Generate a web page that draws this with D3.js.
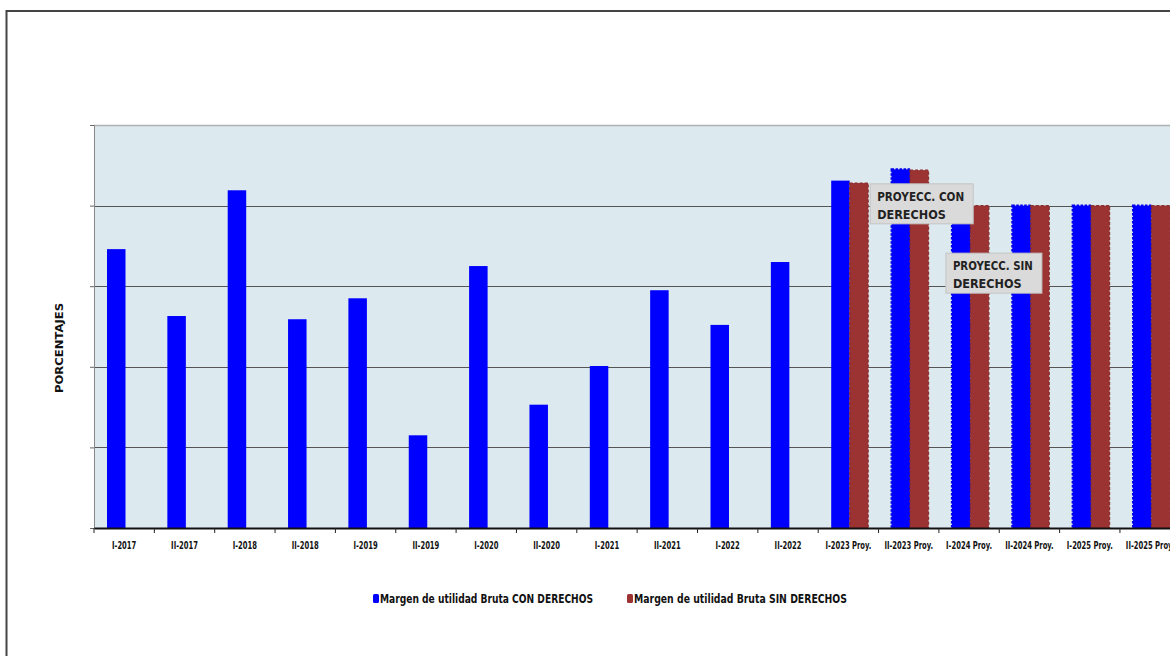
<!DOCTYPE html>
<html>
<head>
<meta charset="utf-8">
<script src="https://cdn.jsdelivr.net/npm/d3@7"></script>
<style>
  html, body { margin: 0; padding: 0; background: #fff; overflow: hidden; }
  svg { display: block; }
</style>
</head>
<body>
<svg id="chart" width="1170" height="656"></svg>
<script>
const categories = ["I-2017","II-2017","I-2018","II-2018","I-2019","II-2019","I-2020","II-2020","I-2021","II-2021","I-2022","II-2022","I-2023 Proy.","II-2023 Proy.","I-2024 Proy.","II-2024 Proy.","I-2025 Proy.","II-2025 Proy."];
const conDerechos = [34.6, 26.3, 41.9, 25.9, 28.5, 11.5, 32.5, 15.3, 20.1, 29.5, 25.2, 33.0, 43.1, 44.5, 40.0, 40.0, 40.0, 40.0];
const sinDerechos = [null, null, null, null, null, null, null, null, null, null, null, null, 42.8, 44.4, 40.0, 40.0, 40.0, 40.0];
const projected = [false,false,false,false,false,false,false,false,false,false,false,false,true,true,true,true,true,true];
const seriesNames = ["Margen de utilidad Bruta CON DERECHOS", "Margen de utilidad Bruta SIN DERECHOS"];
const yTicks = [0, 10, 20, 30, 40, 50];
const annotations = [
  { lines: ["PROYECC. CON", "DERECHOS"], cat: "I-2023 Proy.", dx: 52, value: 42.7, w: 103 },
  { lines: ["PROYECC. SIN", "DERECHOS"], cat: "I-2024 Proy.", dx: 7, value: 34.1, w: 96 }
];

const svg = d3.select("#chart");
const BLUE = "#0000ff", RED = "#9b3333";
const plotLeft = 94, plotTop = 125, plotBottom = 528, bandW = 60.35;

// outer frame
svg.append("path").attr("d", "M6.5,656 L6.5,11 L1170,11")
  .attr("fill", "none").attr("stroke", "#444").attr("stroke-width", 2);

const x = d3.scaleBand().domain(categories).range([plotLeft, plotLeft + bandW * categories.length]).paddingInner(0).paddingOuter(0);
const x1 = d3.scaleBand().domain(["con", "sin"]).range([13, 50]).padding(0);
const y = d3.scaleLinear().domain([0, 50]).range([plotBottom, plotTop]);

// plot background
svg.append("rect").attr("x", plotLeft).attr("y", plotTop)
  .attr("width", x.range()[1] - plotLeft).attr("height", plotBottom - plotTop)
  .attr("fill", "#dce9ef");

// gridlines
svg.append("g").selectAll("line").data(yTicks.slice(1)).join("line")
  .attr("x1", plotLeft).attr("x2", x.range()[1])
  .attr("y1", d => Math.round(y(d)) + 0.5).attr("y2", d => Math.round(y(d)) + 0.5)
  .attr("stroke", d => d === 50 ? "#b0b0b0" : "#555").attr("stroke-width", d => d === 50 ? 1.5 : 1);

// y axis (no labels)
const yAxis = svg.append("g").attr("transform", `translate(${plotLeft},0)`)
  .call(d3.axisLeft(y).tickValues(yTicks).tickSize(4).tickFormat(""));
yAxis.select(".domain").attr("stroke", "#888");
yAxis.selectAll(".tick line").attr("stroke", "#666");

// bars
const rows = categories.map((c, i) => ({ cat: c, i, con: conDerechos[i], sin: sinDerechos[i], proj: projected[i] }));
const g = svg.append("g");
rows.forEach(r => {
  const bx = x(r.cat);
  if (r.con != null) {
    const rect = g.append("rect")
      .attr("x", bx + x1("con")).attr("y", y(r.con))
      .attr("width", x1.bandwidth()).attr("height", y(0) - y(r.con))
      .attr("fill", BLUE);
    if (r.proj && r.i > 12) {
      rect.attr("stroke", "#0000ee").attr("stroke-width", 2).attr("stroke-dasharray", "2.5,1.5");
    }
  }
  if (r.sin != null) {
    g.append("rect")
      .attr("x", bx + x1("sin")).attr("y", y(r.sin))
      .attr("width", x1.bandwidth()).attr("height", y(0) - y(r.sin))
      .attr("fill", RED)
      .attr("stroke", "#8a2e2e").attr("stroke-width", 1.2).attr("stroke-dasharray", "3,2");
  }
});

// x axis
const xAxis = svg.append("g").attr("transform", `translate(0,${plotBottom})`)
  .call(d3.axisBottom(x).tickSize(0).tickPadding(14));
xAxis.select(".domain").attr("stroke", "#111").attr("stroke-width", 2);
const tickTexts = xAxis.selectAll(".tick text")
  .attr("font-family", "'DejaVu Sans Condensed', 'DejaVu Sans', sans-serif")
  .attr("font-weight", "bold").attr("font-size", 10.5).attr("fill", "#111");
// condense labels horizontally like the narrow font of the original
tickTexts.each(function () {
  const len = this.getComputedTextLength();
  d3.select(this).attr("textLength", len * 0.72).attr("lengthAdjust", "spacingAndGlyphs");
});
svg.append("g").selectAll("line").data(categories.map(c => x(c)).concat([x.range()[1]])).join("line")
  .attr("x1", d => d).attr("x2", d => d).attr("y1", plotBottom).attr("y2", plotBottom + 5)
  .attr("stroke", "#222").attr("stroke-width", 1);

// axis title
svg.append("text").attr("transform", "translate(63,348) rotate(-90)")
  .attr("text-anchor", "middle")
  .attr("font-family", "'DejaVu Sans Condensed', 'DejaVu Sans', sans-serif")
  .attr("font-weight", "bold").attr("font-size", 10).attr("fill", "#111")
  .attr("textLength", 90).attr("lengthAdjust", "spacingAndGlyphs")
  .text("PORCENTAJES");

// annotations
annotations.forEach(a => {
  const ax = x(a.cat) + a.dx, ay = y(a.value);
  svg.append("rect").attr("x", ax).attr("y", ay).attr("width", a.w).attr("height", 40)
    .attr("fill", "#dadada").attr("stroke", "#c4c4c4").attr("stroke-width", 1);
  a.lines.forEach((t, k) => {
    svg.append("text").attr("x", ax + 7).attr("y", ay + 17 + k * 18)
      .attr("font-family", "'DejaVu Sans Condensed', 'DejaVu Sans', sans-serif")
      .attr("font-weight", "bold").attr("font-size", 12.5).attr("fill", "#222")
      .attr("textLength", t.length > 9 ? a.w - 16 : null)
      .attr("lengthAdjust", "spacingAndGlyphs")
      .text(t);
  });
});

// legend
const legend = [{ name: seriesNames[0], color: BLUE, x: 373 }, { name: seriesNames[1], color: RED, x: 627 }];
legend.forEach(l => {
  svg.append("rect").attr("x", l.x).attr("y", 594).attr("width", 6).attr("height", 9).attr("rx", 1.5)
    .attr("fill", l.color);
  svg.append("text").attr("x", l.x + 7).attr("y", 603)
    .attr("font-family", "'DejaVu Sans Condensed', 'DejaVu Sans', sans-serif")
    .attr("font-weight", "bold").attr("font-size", 11.5).attr("fill", "#111")
    .attr("textLength", 213).attr("lengthAdjust", "spacingAndGlyphs")
    .text(l.name);
});
</script>
</body>
</html>
